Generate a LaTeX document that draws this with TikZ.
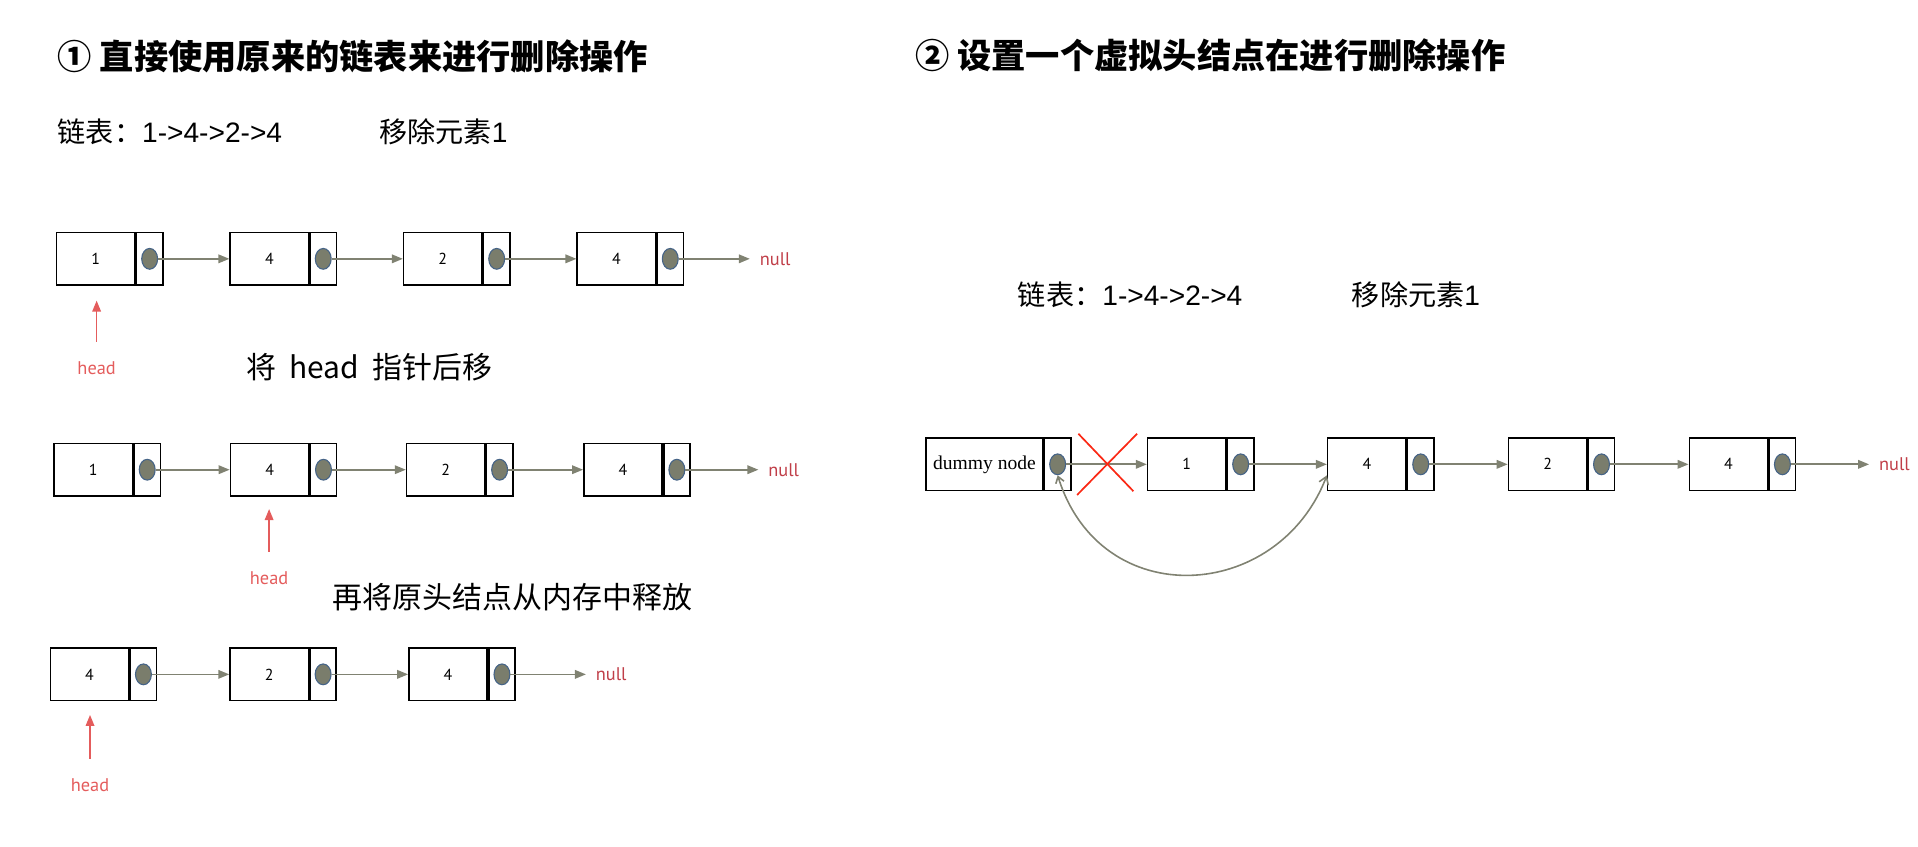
\documentclass[tikz,border=0pt]{standalone}
\usepackage{fontspec}
\setmainfont{Noto Sans CJK SC}
\newfontfamily\numfont{PT Sans}
\newfontfamily\serfont{Liberation Serif}
\newfontfamily\latfont{Liberation Sans}
\usetikzlibrary{arrows.meta, calc, shapes.geometric, positioning}

\definecolor{linkgray}{RGB}{128,130,114}
\definecolor{dotfill}{RGB}{122,125,108}
\definecolor{dotedge}{RGB}{70,100,135}
\definecolor{headred}{RGB}{228,92,92}
\definecolor{nullred}{RGB}{192,62,72}
\definecolor{crossred}{RGB}{250,40,20}

\begin{document}
\begin{tikzpicture}[x=1pt, y=-1pt,
    databox/.style={draw, line width=1.3pt, rectangle, minimum width=64pt, minimum height=43pt, inner sep=0pt, font=\numfont\fontsize{13}{13}\selectfont},
    ptrbox/.style={draw, line width=1.3pt, rectangle, minimum width=21.5pt, minimum height=43pt, inner sep=0pt},
    dot/.style={ellipse, fill=dotfill, draw=dotedge, line width=0.9pt, minimum width=13pt, minimum height=17pt, inner sep=0pt},
    link/.style={-{Triangle[length=9pt, width=7pt]}, linkgray, line width=1.4pt},
    headarr/.style={-{Triangle[length=9pt, width=7pt]}, headred, line width=1.3pt, shorten <=16pt, shorten >=12pt},
    headt/.style={headred, inner sep=0pt, font=\numfont\fontsize{15}{15}\selectfont},
    nullt/.style={nullred, inner sep=0pt, anchor=west, font=\numfont\fontsize{15}{15}\selectfont},
    titlet/.style={anchor=west, inner sep=0pt, font=\bfseries\fontsize{28}{30}\selectfont},
    subt/.style={anchor=west, inner sep=0pt, font=\fontsize{23}{25}\selectfont},
    capt/.style={anchor=west, inner sep=0pt, font=\fontsize{24.5}{26}\selectfont}]
    \useasboundingbox (0,0) rectangle (1568,692);

    % Left: delete on the original list
    \node[titlet] (t1) at (47,46.5) {① 直接使用原来的链表来进行删除操作};
    \node[subt] (s1) at (47,108) {链表：{\latfont 1->4->2->4}};
    \node[subt] (s2) at (310,108) {移除元素{\latfont 1}};

    % Row 1
    \foreach \i/\x/\v in {1/78.3/1, 2/220.2/4, 3/362/2, 4/503.9/4} {
      \node[databox] (a\i) at (\x,211.6) {\v};
      \node[ptrbox, right=0pt of a\i] (ap\i) {};
      \node[dot] (ad\i) at (ap\i) {};
    }
    \foreach \i/\j in {1/2, 2/3, 3/4}
      \draw[link] (ad\i) -- (a\j);
    \node[nullt] (an) at (621,211.6) {null};
    \draw[link, shorten >=8pt] (ad4) -- (an);
    \node[headt] (ah) at (79,300.9) {head};
    \draw[headarr] (ah.north) -- (ah.north |- a1.south);
    \node[capt] (c1) at (201,300) {将~~head~~指针后移};

    % Row 2
    \foreach \i/\x/\v in {1/76.3/1, 2/220.4/4, 3/364.4/2, 4/509.3/4} {
      \node[databox] (b\i) at (\x,384) {\v};
      \node[ptrbox, right=0pt of b\i] (bp\i) {};
      \node[dot] (bd\i) at (bp\i) {};
    }
    \foreach \i/\j in {1/2, 2/3, 3/4}
      \draw[link] (bd\i) -- (b\j);
    \node[nullt] (bn) at (628,384) {null};
    \draw[link, shorten >=8pt] (bd4) -- (bn);
    \node[headt] (bh) at (220,472.6) {head};
    \draw[headarr, shorten >=10pt] (bh.north) -- (bh.north |- b2.south);
    \node[capt] (c2) at (272,488) {再将原头结点从内存中释放};

    % Row 3
    \foreach \i/\x/\v in {1/73.2/4, 2/220.1/2, 3/366.3/4} {
      \node[databox] (c\i) at (\x,551.3) {\v};
      \node[ptrbox, right=0pt of c\i] (cp\i) {};
      \node[dot] (cd\i) at (cp\i) {};
    }
    \foreach \i/\j in {1/2, 2/3}
      \draw[link] (cd\i) -- (c\j);
    \node[nullt] (cn) at (487,551.3) {null};
    \draw[link, shorten >=8pt] (cd3) -- (cn);
    \node[headt] (ch) at (73.6,641.7) {head};
    \draw[headarr, shorten >=11pt] (ch.north) -- (ch.north |- c1.south);

    % Right: with a dummy head node
    \node[titlet] (t2) at (748,45) {② 设置一个虚拟头结点在进行删除操作};
    \node[subt] (s3) at (832,241) {链表：{\latfont 1->4->2->4}};
    \node[subt] (s4) at (1105,241) {移除元素{\latfont 1}};

    \node[databox, minimum width=95.6pt, font=\serfont\fontsize{16}{16}\selectfont] (r0) at (804.8,379.6) {dummy node};
    \node[ptrbox, right=0pt of r0] (rp0) {};
    \node[dot] (rd0) at (rp0) {};
    \foreach \i/\x/\v in {1/970.2/1, 2/1117.4/4, 3/1265.2/2, 4/1413.1/4} {
      \node[databox] (r\i) at (\x,379.6) {\v};
      \node[ptrbox, right=0pt of r\i] (rp\i) {};
      \node[dot] (rd\i) at (rp\i) {};
    }
    \foreach \i/\j in {0/1, 1/2, 2/3, 3/4}
      \draw[link] (rd\i) -- (r\j);
    \node[nullt] (rn) at (1536,379.6) {null};
    \draw[link, shorten >=8pt] (rd4) -- (rn);

    % cut link
    \path (rd0) -- (r1) coordinate[pos=0.5] (cx);
    \draw[crossred, line width=1.4pt] ($(cx)+(-23,-25)$) -- ($(cx)+(22,22)$);
    \draw[crossred, line width=1.4pt] ($(cx)+(25,-25)$) -- ($(cx)+(-24,25)$);

    % new link
    \draw[{Straight Barb[length=5pt, width=7pt]}-{Straight Barb[length=6pt, width=8pt]}, linkgray, line width=1.3pt]
      (rd0.south) .. controls +(35,113) and +(-40,104) .. ([yshift=-9pt]r2.west);
\end{tikzpicture}
\end{document}
